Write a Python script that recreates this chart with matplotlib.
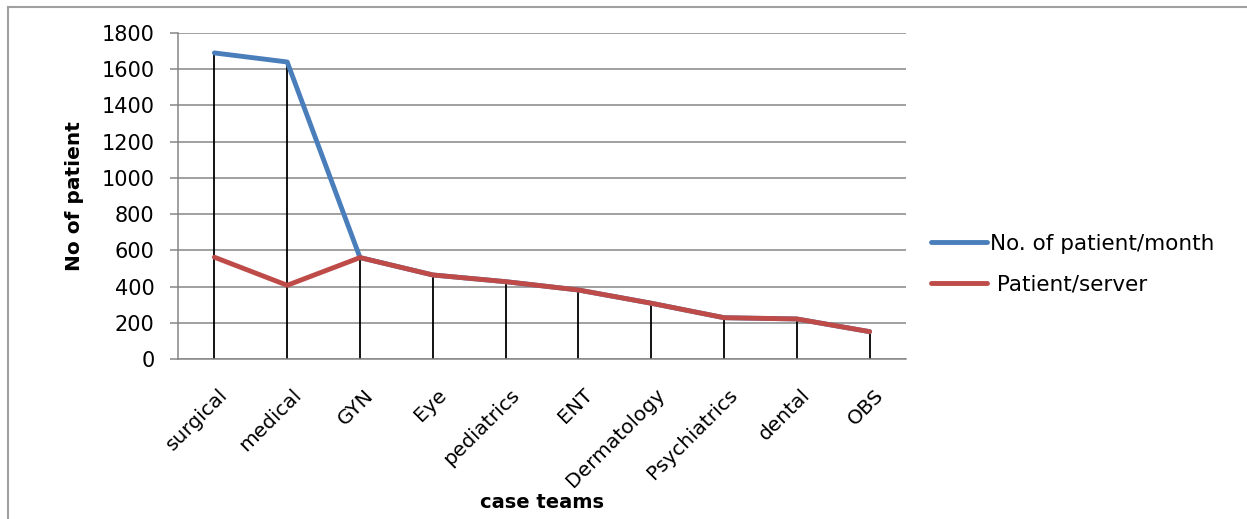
import matplotlib
matplotlib.use("Agg")
import matplotlib.pyplot as plt
from matplotlib.lines import Line2D
from matplotlib.transforms import ScaledTranslation

plt.rcParams['font.family'] = ['DejaVu Sans']

# Case teams and monthly patient load
categories = ["surgical", "medical", "GYN", "Eye", "pediatrics", "ENT",
              "Dermatology", "Psychiatrics", "dental", "OBS"]
patients_per_month = [1690, 1640, 560, 464, 427, 381, 308, 228, 221, 151]
patients_per_server = [562, 407, 560, 464, 427, 381, 308, 228, 221, 151]
y_ticks = [0, 200, 400, 600, 800, 1000, 1200, 1400, 1600, 1800]

GRID = "#868686"
BLUE = "#4A7EBB"
RED = "#BE4B48"

W, H, DPI = 1247, 519, 100
fig = plt.figure(figsize=(W / DPI, H / DPI), dpi=DPI)
ax = fig.add_axes([178 / W, 1 - 359 / H, 728 / W, 326 / H])

x = list(range(len(categories)))

# drop lines from the highest point of each category down to the axis
tops = [max(a, b) for a, b in zip(patients_per_month, patients_per_server)]
ax.vlines(x, 0, tops, color="black", lw=1.3, zorder=2)

ax.plot(x, patients_per_month, color=BLUE, lw=3.5, solid_capstyle="round",
        zorder=3, label="No. of patient/month")
ax.plot(x, patients_per_server, color=RED, lw=3.5, solid_capstyle="round",
        zorder=4, label=" Patient/server")

ax.set_xlim(-0.5, len(categories) - 0.5)
ax.set_ylim(0, 1800)
ax.set_yticks(y_ticks)
ax.set_yticklabels([str(v) for v in y_ticks])
ax.yaxis.grid(True, color=GRID, lw=1.1, zorder=0)
ax.set_axisbelow(True)

for s in ("top", "right"):
    ax.spines[s].set_visible(False)
ax.spines["left"].set_color(GRID)
ax.spines["left"].set_linewidth(1.1)
ax.spines["bottom"].set_color(GRID)
ax.spines["bottom"].set_linewidth(1.1)

ax.tick_params(axis="y", direction="out", length=6, width=1.1, color=GRID,
               pad=11, labelsize=15, labelcolor="black")
ax.tick_params(axis="x", length=0, pad=19, labelsize=14.5, labelcolor="black")

ax.set_xticks(x)
ax.set_xticklabels(categories, rotation=45, ha="right", va="top",
                   rotation_mode="anchor")
shift = ScaledTranslation(4 / DPI, 0, fig.dpi_scale_trans)
for lab in ax.get_xticklabels():
    lab.set_transform(lab.get_transform() + shift)

ax.set_xlabel("case teams", fontsize=14, fontweight="bold")
ax.xaxis.set_label_coords(0.5, (359 - 502) / 326)
ax.xaxis.label.set_va("center")

ax.set_ylabel("No of patient", fontsize=14.5, fontweight="bold")
ax.yaxis.set_label_coords((75 - 178) / 728, 0.5)
ax.yaxis.label.set_va("center")

ax.legend(loc="center left", bbox_to_anchor=(931 / W, 1 - 264 / H),
          bbox_transform=fig.transFigure, frameon=False, fontsize=15.5,
          handlelength=2.6, handletextpad=0.15, labelspacing=0.95,
          borderpad=0, borderaxespad=0)

# chart frame
fig.add_artist(Line2D([8 / W, 1.01], [1 - 7 / H, 1 - 7 / H],
                      transform=fig.transFigure, color="#A0A0A0", lw=1.5))
fig.add_artist(Line2D([8 / W, 8 / W], [-0.01, 1 - 7 / H],
                      transform=fig.transFigure, color="#A0A0A0", lw=1.5))

fig.savefig("out.png", dpi=DPI, facecolor="white")
